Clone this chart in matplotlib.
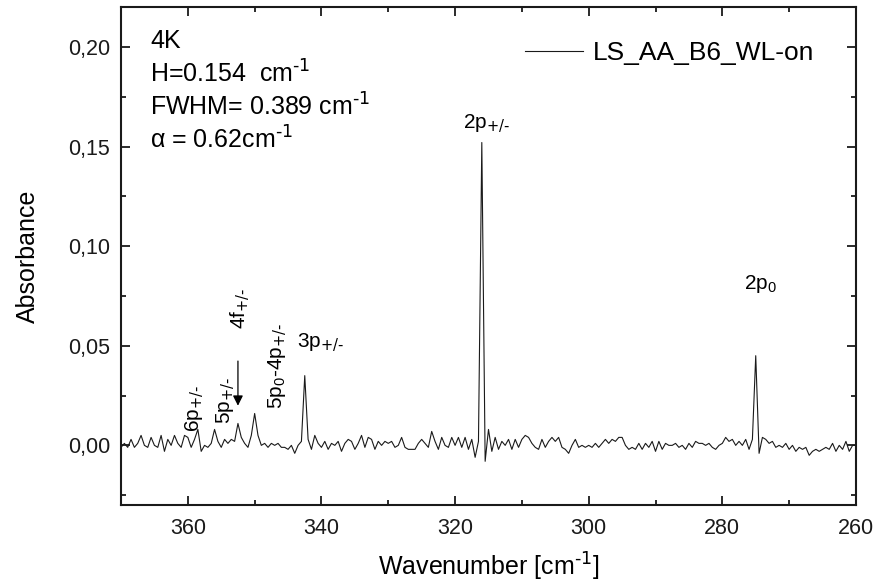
import matplotlib
matplotlib.use('Agg')
import matplotlib.pyplot as plt
from matplotlib.ticker import MultipleLocator, FuncFormatter
import numpy as np

plt.rcParams['font.family'] = ['Liberation Sans', 'DejaVu Sans']
plt.rcParams['mathtext.default'] = 'regular'

# spectrum, 370 -> 260 cm-1 in 0.5 cm-1 steps (values in mAbs)
wn_start, wn_end = 370.0, 260.0
absorbance_mabs = [
    -1, 1, -1, 3, -1, 1, 5, 0, -1, 4, 0, -1, 5, -3, 3, 0, 5, 1, -1, 5,        # 370 - 360.5
    4, -1, 3, 8, -3, 0, -1, 1, 8, 2, -1, 3, 1, 3, 2, 11, 4, 1, -1, 5,         # 360 - 350.5
    16, 5, 0, 1, -1, 1, 0, 1, -1, -1, -2, 0, -4, 0, 2, 35, 3, -2, 5, 1,       # 350 - 340.5
    -1, 2, -2, 1, 0, 2, -3, 1, 3, 2, -2, 1, 5, -1, 4, 3, -2, 2, 0, 2,         # 340 - 330.5
    1, 2, -1, 0, 4, -1, -2, -2, -2, 1, 3, 1, -1, 7, 2, -2, 4, 0, -1, 4,       # 330 - 320.5
    0, 4, -1, 4, -2, 3, -6, 2, 152, -8, 8, -3, 4, -2, 2, 0, 3, -2, 3, -1,     # 320 - 310.5
    3, 5, 4, 1, -1, -2, 3, -1, 2, 4, 2, 4, -1, -2, -4, 0, 3, -1, 0, -1,       # 310 - 300.5
    0, -1, 1, -1, 1, 3, 1, 3, 2, 4, 4, 0, -2, -1, -2, 1, -2, 1, -1, 2,        # 300 - 290.5
    -3, 2, -2, 1, 0, 0, 1, -1, 0, -2, 1, -1, 2, 1, 1, 0, 1, -1, -2, 0,        # 290 - 280.5
    1, 4, 2, 3, 0, 2, 0, 3, -2, 3, 45, -4, 4, 3, 1, 2, -1, 0, -1, 1,          # 280 - 270.5
    -2, 0, -3, -1, -2, -1, -5, -3, -2, -3, -2, -1, -2, 1, -3, 0, -2, 2, -3, 0, # 270 - 260.5
    0,                                                                        # 260
]
absorbance = np.array(absorbance_mabs) * 1e-3
wavenumber = np.linspace(wn_start, wn_end, len(absorbance))

# peak labels: text, wavenumber, absorbance, rotation
pm = r'$_{\text{+/-}}$'
peak_labels = ['6p' + pm, '5p' + pm, '4f' + pm, '5p$_0$-4p' + pm,
               '3p' + pm, '2p' + pm, '2p$_0$']
label_x = [359.0, 354.5, 352.3, 346.6, 340.2, 315.3, 274.3]
label_y = [0.0186, 0.0226, 0.069, 0.040, 0.052, 0.162, 0.081]
label_rot = [90, 90, 90, 90, 0, 0, 0]

inv_cm = r'cm$^{\text{-1}}$'
info_lines = ['4K', 'H=0.154  ' + inv_cm, 'FWHM= 0.389 ' + inv_cm,
              r'$\alpha$ = 0.62' + inv_cm]

fig = plt.figure(figsize=(8.77, 5.86), dpi=100)
ax = fig.add_axes([0.138, 0.138, 0.838, 0.850])

ax.plot(wavenumber, absorbance, color='#1a1a1a', lw=0.8, label='LS_AA_B6_WL-on')

ax.set_xlim(370, 260)
ax.set_ylim(-0.03, 0.22)
ax.xaxis.set_major_locator(MultipleLocator(20))
ax.xaxis.set_minor_locator(MultipleLocator(10))
ax.yaxis.set_major_locator(MultipleLocator(0.05))
ax.yaxis.set_minor_locator(MultipleLocator(0.025))
ax.yaxis.set_major_formatter(FuncFormatter(lambda v, p: f'{v:.2f}'.replace('.', ',')))
ax.tick_params(which='both', direction='in', top=True, right=True, width=1.3,
               labelsize=15.5, colors='#1a1a1a')
ax.tick_params(which='major', length=6.5)
ax.tick_params(which='minor', length=3.6)
ax.tick_params(axis='x', which='major', pad=9)
ax.tick_params(axis='y', which='major', pad=8)
for s in ax.spines.values():
    s.set_linewidth(1.5)
    s.set_color('#1a1a1a')

ax.set_xlabel('Wavenumber [' + inv_cm + ']', fontsize=18, labelpad=9)
ax.set_ylabel('Absorbance', fontsize=18, labelpad=20)

for t, x, y, r in zip(peak_labels, label_x, label_y, label_rot):
    ax.text(x, y, t, rotation=r, ha='center', va='center', fontsize=15)

# arrow to the 4f peak
ax.annotate('', xy=(352.5, 0.0185), xytext=(352.5, 0.0437),
            arrowprops=dict(arrowstyle='-|>', color='black', lw=0.9,
                            mutation_scale=15))

for i, line in enumerate(info_lines):
    ax.text(0.04, 0.932 - i * 0.0665, line, transform=ax.transAxes,
            fontsize=18, va='center', ha='left')

ax.legend(loc='center left', bbox_to_anchor=(0.55, 0.908), frameon=False,
          fontsize=19, handlelength=2.2, handletextpad=0.35, borderpad=0,
          borderaxespad=0)

fig.savefig('out.png', dpi=100, facecolor='white')
